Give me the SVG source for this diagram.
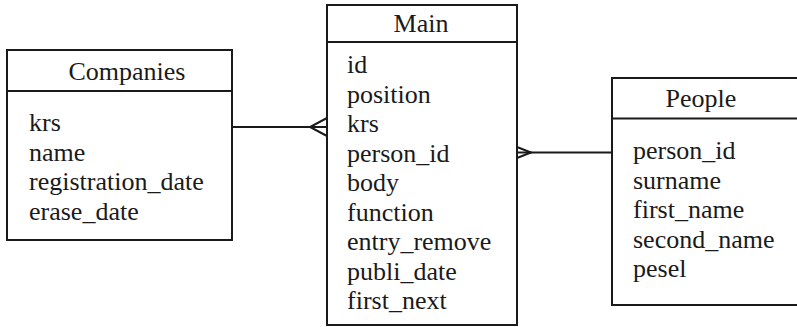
<svg xmlns="http://www.w3.org/2000/svg" width="797" height="327" viewBox="0 0 797 327">
<style>
.box{fill:#fff;stroke:#1a1a1a;stroke-width:2}
.sep{stroke:#1a1a1a;stroke-width:2}
.t{font-family:"Liberation Serif","Times New Roman",serif;font-size:26px;fill:#1a1a1a}
.h{text-anchor:middle}
.c{fill:none;stroke:#1a1a1a;stroke-width:2}
</style>
<rect width="797" height="327" fill="#fff"/>
<g id="connectors">
<line class="c" x1="232" y1="127" x2="327" y2="127"/>
<polyline class="c" points="327,118 310,127 327,136"/>
<line class="c" x1="517" y1="152.5" x2="612" y2="152.5"/>
<polyline class="c" points="517,147 531,152.5 517,158"/>
</g>
<g id="companies">
<rect class="box" x="7" y="50" width="225" height="190"/>
<line class="sep" x1="7" y1="91" x2="232" y2="91"/>
<text class="t h" x="127" y="80">Companies</text>
<text class="t" x="29" y="131">krs</text>
<text class="t" x="29" y="160.5">name</text>
<text class="t" x="29" y="190">registration_date</text>
<text class="t" x="29" y="219.5">erase_date</text>
</g>
<g id="main">
<rect class="box" x="327" y="5" width="190" height="320"/>
<line class="sep" x1="327" y1="42" x2="517" y2="42"/>
<text class="t h" x="421" y="32">Main</text>
<text class="t" x="347" y="73">id</text>
<text class="t" x="347" y="102.5">position</text>
<text class="t" x="347" y="132">krs</text>
<text class="t" x="347" y="161.5">person_id</text>
<text class="t" x="347" y="191">body</text>
<text class="t" x="347" y="220.5">function</text>
<text class="t" x="347" y="250">entry_remove</text>
<text class="t" x="347" y="279.5">publi_date</text>
<text class="t" x="347" y="309">first_next</text>
</g>
<g id="people">
<rect class="box" x="612" y="78" width="200" height="227"/>
<line class="sep" x1="612" y1="118.5" x2="812" y2="118.5"/>
<text class="t h" x="701" y="107">People</text>
<text class="t" x="633" y="159">person_id</text>
<text class="t" x="633" y="188.5">surname</text>
<text class="t" x="633" y="218">first_name</text>
<text class="t" x="633" y="247.5">second_name</text>
<text class="t" x="633" y="277">pesel</text>
</g>
</svg>
